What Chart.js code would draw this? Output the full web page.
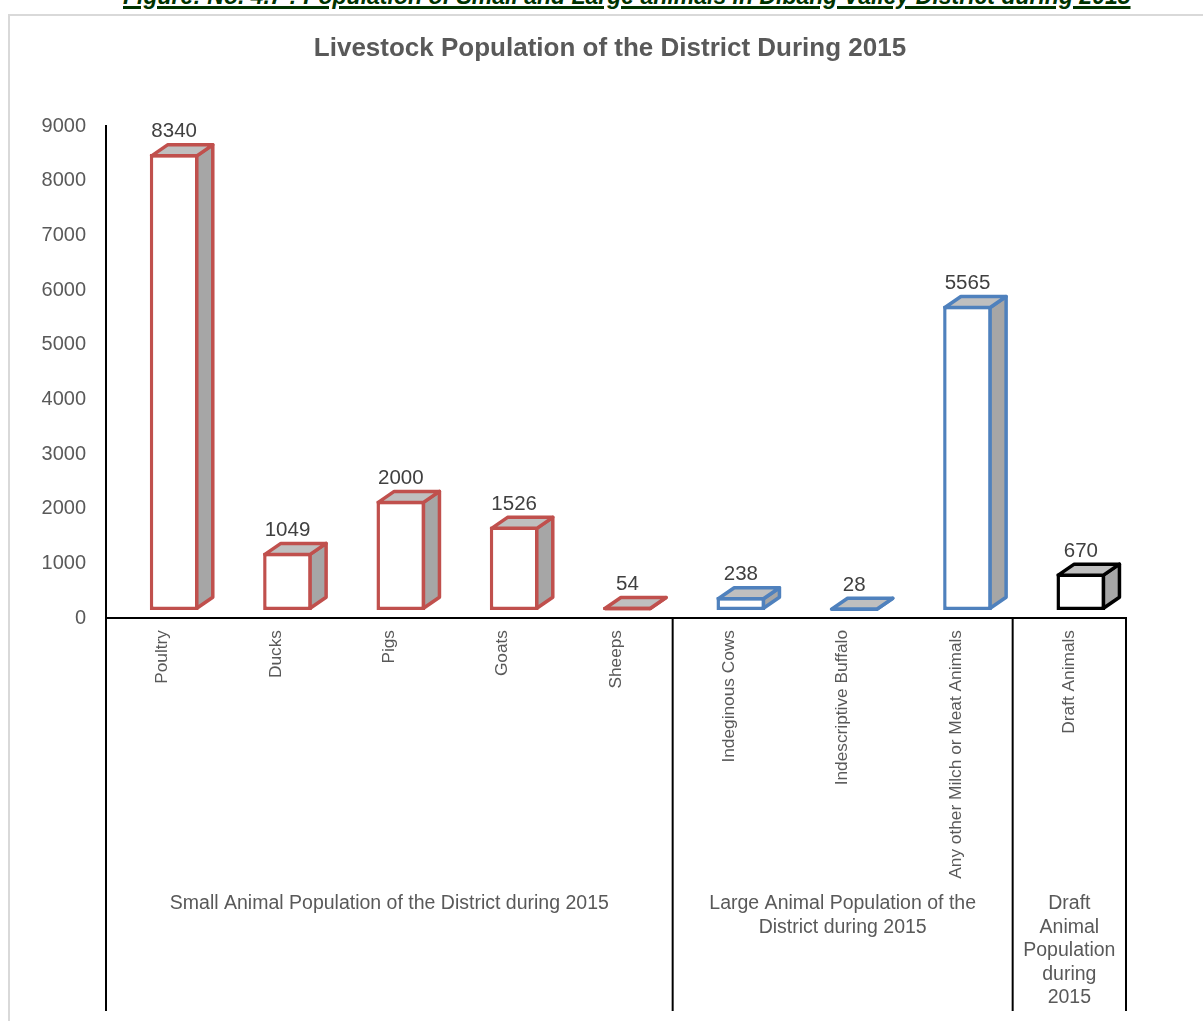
<!DOCTYPE html>
<html>
<head>
<meta charset="utf-8">
<title>Livestock Population of the District During 2015</title>
<script src="https://cdn.jsdelivr.net/npm/chart.js@4.4.0/dist/chart.umd.min.js"></script>
<style>
    html, body { margin: 0; padding: 0; background: #fff; overflow: hidden; }
    #caption {
        position: absolute; left: 123px; top: -17px; white-space: nowrap;
        font: italic bold 23px "Liberation Sans", Arial, sans-serif; color: #003300;
        text-decoration: underline; text-decoration-thickness: 3px; text-underline-offset: 2px;
    }
    #frame {
        position: absolute; left: 8px; top: 14px; width: 1300px; height: 1100px;
        border: 2px solid #d9d9d9; box-sizing: border-box;
    }
    #wrap { position: absolute; left: 0; top: 0; width: 1203px; height: 1021px; }
</style>
</head>
<body>
<div id="caption">Figure: No. 4.7 : Population of Small and Large animals in Dibang Valley District during 2015</div>
<div id="frame"></div>
<div id="wrap"><canvas id="livestockCtx"></canvas></div>
<script>
const livestockCtx = document.getElementById("livestockCtx");

// chart data
const categories = ["Poultry", "Ducks", "Pigs", "Goats", "Sheeps",
    "Indeginous Cows", "Indescriptive Buffalo", "Any other Milch or Meat Animals",
    "Draft Animals"];
const population = [8340, 1049, 2000, 1526, 54, 238, 28, 5565, 670];
const groupNames = [
    ["Small Animal Population of the District during 2015"],
    ["Large Animal Population of the", "District during 2015"],
    ["Draft", "Animal", "Population", "during", "2015"]
];
const groupSizes = [5, 3, 1];
const groupColours = ["#c0504d", "#4f81bd", "#000000"];
const yTicks = [0, 1000, 2000, 3000, 4000, 5000, 6000, 7000, 8000, 9000];

// colour of each bar from the group it belongs to
const barColours = [];
groupSizes.forEach((n, g) => { for (let k = 0; k < n; k++) barColours.push(groupColours[g]); });

const LINE = 3.5;       // bar outline
const DX = 16, DY = 11; // depth of the 3d box
const GREY = "#595959";

/// <summary>
/// Draws the side and top faces of every bar plus its value
/// </summary>
const boxPlugin = {
    id: "box3d",
    afterDatasetsDraw(chart) {
        const ctx = chart.ctx;
        const meta = chart.getDatasetMeta(0);
        meta.data.forEach((bar, i) => {
            const p = bar.getProps(["x", "y", "base", "width"], true);
            const lw = LINE / 2;
            const L = p.x - p.width / 2 + lw, R = p.x + p.width / 2 - lw;
            let T = Math.min(p.y, p.base) + lw, B = Math.max(p.y, p.base) - lw;
            if (T > B) { T = B = (T + B) / 2; }

            ctx.save();
            ctx.lineWidth = LINE;
            ctx.lineJoin = "round";
            ctx.strokeStyle = barColours[i];

            ctx.beginPath();
            ctx.moveTo(R, T); ctx.lineTo(R + DX, T - DY); ctx.lineTo(R + DX, B - DY); ctx.lineTo(R, B);
            ctx.closePath();
            ctx.fillStyle = "#a6a6a6"; ctx.fill(); ctx.stroke();

            ctx.beginPath();
            ctx.moveTo(L, T); ctx.lineTo(L + DX, T - DY); ctx.lineTo(R + DX, T - DY); ctx.lineTo(R, T);
            ctx.closePath();
            ctx.fillStyle = "#bfbfbf"; ctx.fill(); ctx.stroke();

            if (B - T < 1) {
                ctx.beginPath(); ctx.moveTo(L, T); ctx.lineTo(R, T); ctx.stroke();
            }

            ctx.fillStyle = "#404040";
            ctx.font = '20.5px "Liberation Sans", Arial, sans-serif';
            ctx.textAlign = "center";
            ctx.textBaseline = "bottom";
            ctx.fillText(String(population[i]), p.x, T - DY - lw - 1);
            ctx.restore();
        });
    },
    afterDraw(chart) {
        const ctx = chart.ctx;
        const x = chart.scales.x;
        const top = chart.chartArea.bottom;
        ctx.save();
        // title
        ctx.fillStyle = GREY;
        ctx.font = 'bold 26px "Liberation Sans", Arial, sans-serif';
        ctx.textAlign = "center";
        ctx.textBaseline = "middle";
        ctx.fillText("Livestock Population of the District During 2015", 610, 49);

        // group separators and names
        ctx.strokeStyle = "#000";
        ctx.lineWidth = 2;
        let start = 0;
        const edges = [x.getPixelForValue(-0.5)];
        groupSizes.forEach(n => { start += n; edges.push(x.getPixelForValue(start - 0.5)); });
        edges.forEach(px => {
            ctx.beginPath(); ctx.moveTo(px, top); ctx.lineTo(px, 1011); ctx.stroke();
        });
        ctx.font = '19.5px "Liberation Sans", Arial, sans-serif';
        groupNames.forEach((lines, g) => {
            const cx = (edges[g] + edges[g + 1]) / 2;
            lines.forEach((t, k) => ctx.fillText(t, cx, 904 + k * 23.5));
        });
        ctx.restore();
    }
};

var livestockChart = new Chart(livestockCtx, {
    type: "bar",
    data: {
        labels: categories,
        datasets: [{
            label: "Population",
            data: population.map((v, i) => ({ x: i, y: v })),
            xAxisID: "x2",
            yAxisID: "y2",
            backgroundColor: "#ffffff",
            borderColor: barColours,
            borderWidth: LINE,
            borderSkipped: false,
            categoryPercentage: 0.43,
            barPercentage: 1
        }]
    },
    options: {
        responsive: true,
        maintainAspectRatio: false,
        animation: false,
        layout: { padding: { left: 10, right: 77, top: 126, bottom: 0 } },
        plugins: { legend: { display: false }, tooltip: { enabled: false }, title: { display: false } },
        scales: {
            x: {
                type: "category",
                grid: { display: false, drawTicks: false },
                border: { display: true, color: "#000", width: 2 },
                ticks: {
                    color: GREY, padding: 12, minRotation: 90, maxRotation: 90, autoSkip: false,
                    font: { family: '"Liberation Sans", Arial', size: 17.3 }
                },
                afterFit(scale) { scale.height = 403; }
            },
            y: {
                type: "linear", min: 0, max: 9000,
                grid: { display: false, drawTicks: false },
                border: { display: true, color: "#000", width: 2 },
                afterBuildTicks(scale) { scale.ticks = yTicks.map(v => ({ value: v })); },
                ticks: {
                    color: GREY, padding: 20,
                    callback: v => String(v),
                    font: { family: '"Liberation Sans", Arial', size: 20 }
                },
                afterFit(scale) { scale.width = 96; }
            },
            // bars sit on a floor drawn slightly in front of the axes
            x2: { type: "linear", display: false, offset: false, grid: { offset: false }, min: -0.6015, max: 8.3985 },
            y2: { type: "linear", display: false, min: -146.3, max: 8853.7 }
        }
    },
    plugins: [boxPlugin]
});
</script>
</body>
</html>
